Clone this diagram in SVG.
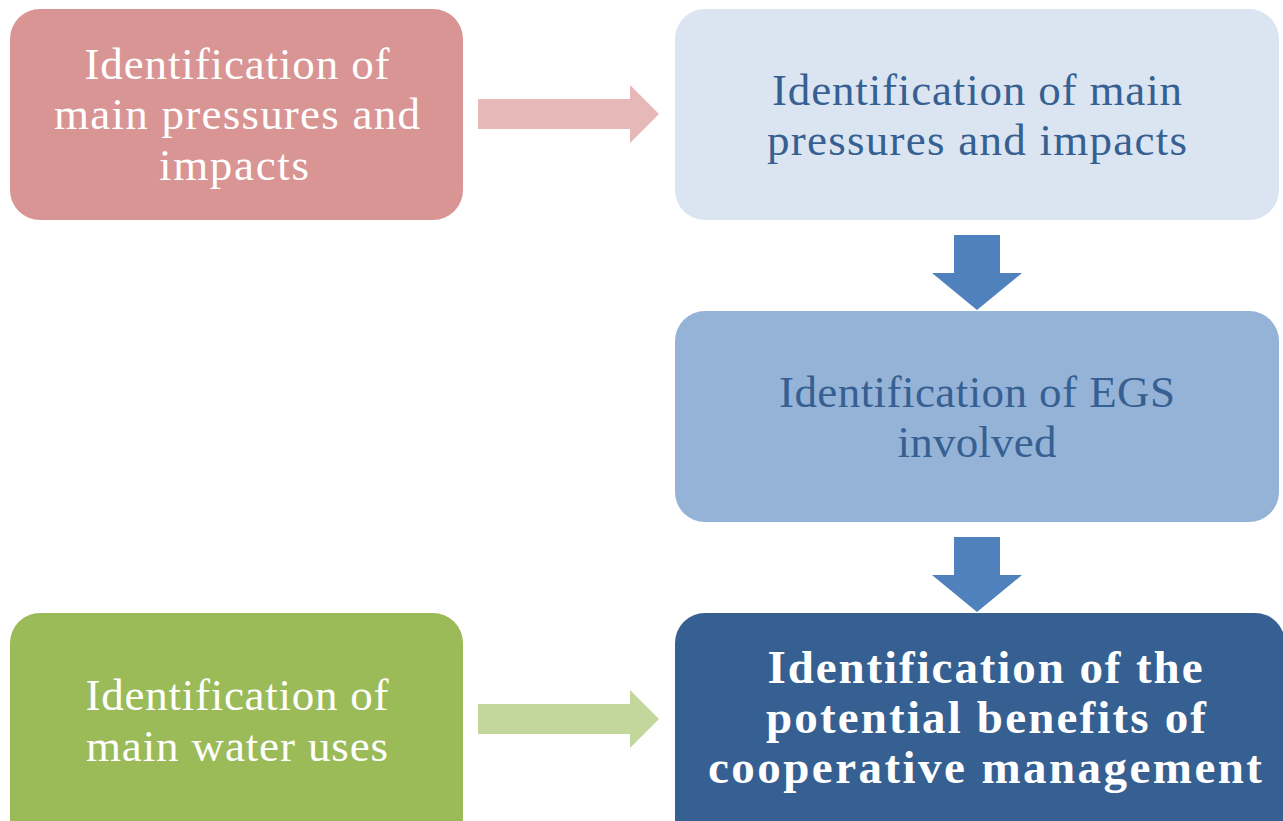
<svg xmlns="http://www.w3.org/2000/svg" width="1283" height="821" viewBox="0 0 1283 821">
  <style>
    .lbl { font-family: "Liberation Serif", "DejaVu Serif", serif; font-size: 45px; text-anchor: middle; }
    .light { fill: #ffffff; }
    .blue { fill: #366092; }
    .bold { font-weight: bold; font-size: 47px; }
  </style>
  <rect width="1283" height="821" fill="#ffffff"/>

  <g id="connectors">
    <polygon id="arrow-pressures" fill="#E6B9B8" points="478,99 630,99 630,85 659,114 630,143 630,129 478,129"/>
    <polygon id="arrow-uses" fill="#C3D69B" points="478,704 630,704 630,690 659,719 630,748 630,734 478,734"/>
    <polygon id="arrow-down-1" fill="#4F81BD" points="954,235 1000,235 1000,273 1022,273 977,310 932,273 954,273"/>
    <polygon id="arrow-down-2" fill="#4F81BD" points="954,537 1000,537 1000,575 1022,575 977,612 932,575 954,575"/>
  </g>

  <g id="node-pressures">
    <rect x="10" y="9" width="453" height="211" rx="30" fill="#D99594"/>
    <text class="lbl light" x="237" y="79" textLength="305" lengthAdjust="spacing">Identification of</text>
    <text class="lbl light" x="237" y="129" textLength="366" lengthAdjust="spacing">main pressures and</text>
    <text class="lbl light" x="234" y="180" textLength="150" lengthAdjust="spacing">impacts</text>
  </g>

  <g id="node-pressures-impacts">
    <rect x="675" y="9" width="604" height="211" rx="30" fill="#DBE5F1"/>
    <text class="lbl blue" x="977" y="105" textLength="410" lengthAdjust="spacing">Identification of main</text>
    <text class="lbl blue" x="977" y="155" textLength="420" lengthAdjust="spacing">pressures and impacts</text>
  </g>

  <g id="node-egs">
    <rect x="675" y="311" width="604" height="211" rx="30" fill="#95B3D7"/>
    <text class="lbl blue" x="977" y="407" textLength="396" lengthAdjust="spacing">Identification of EGS</text>
    <text class="lbl blue" x="977" y="457" textLength="159" lengthAdjust="spacing">involved</text>
  </g>

  <g id="node-water-uses">
    <rect x="10" y="613" width="453" height="240" rx="30" fill="#9BBB59"/>
    <text class="lbl light" x="237" y="710" textLength="303" lengthAdjust="spacing">Identification of</text>
    <text class="lbl light" x="237" y="761" textLength="302" lengthAdjust="spacing">main water uses</text>
  </g>

  <g id="node-benefits">
    <rect x="675" y="613" width="610" height="240" rx="30" fill="#366092"/>
    <text class="lbl light bold" x="985" y="683" textLength="435" lengthAdjust="spacing">Identification of the</text>
    <text class="lbl light bold" x="986" y="733" textLength="440" lengthAdjust="spacing">potential benefits of</text>
    <text class="lbl light bold" x="985" y="783" textLength="554" lengthAdjust="spacing">cooperative management</text>
  </g>
</svg>
